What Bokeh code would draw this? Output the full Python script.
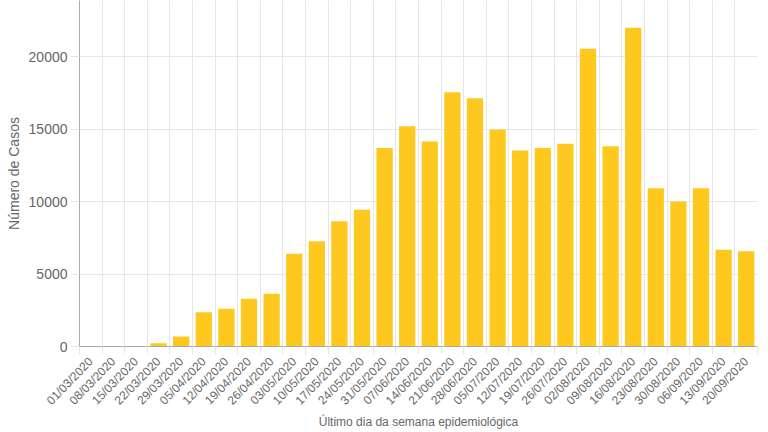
import math
import numpy as np
from bokeh.plotting import figure
from bokeh.models import Range1d, FixedTicker, ColumnDataSource
from bokeh.embed import file_html
from bokeh.resources import INLINE

dates = ["01/03/2020", "08/03/2020", "15/03/2020", "22/03/2020", "29/03/2020",
         "05/04/2020", "12/04/2020", "19/04/2020", "26/04/2020", "03/05/2020",
         "10/05/2020", "17/05/2020", "24/05/2020", "31/05/2020", "07/06/2020",
         "14/06/2020", "21/06/2020", "28/06/2020", "05/07/2020", "12/07/2020",
         "19/07/2020", "26/07/2020", "02/08/2020", "09/08/2020", "16/08/2020",
         "23/08/2020", "30/08/2020", "06/09/2020", "13/09/2020", "20/09/2020"]
cases = [0, 0, 10, 220, 690, 2370, 2600, 3290, 3640, 6400,
         7270, 8650, 9440, 13720, 15210, 14160, 17560, 17150, 14990, 13540,
         13720, 14000, 20560, 13830, 22010, 10930, 10010, 10930, 6680, 6580]
y_ticks = [0, 5000, 10000, 15000, 20000]
x_title = "Último dia da semana epidemiológica"

n = len(dates)
centers = [i + 0.5 for i in range(n)]
bounds = list(range(n + 1))

src = ColumnDataSource(dict(x=centers, top=cases, label=dates))

FONT = "Liberation Sans"
GRID = "#e6e6e6"
TXT = "#666666"

p = figure(width=760, height=432, output_backend="svg", toolbar_location=None,
           x_range=Range1d(0, n), y_range=Range1d(0, 23900),
           min_border_left=79, min_border_right=3, min_border_top=0,
           min_border_bottom=86)
p.outline_line_color = None
p.background_fill_color = "white"
p.border_fill_color = "white"

p.vbar(x="x", top="top", width=0.72, bottom=0, source=src,
       fill_color="#FFC81E", line_color=None)

# x axis
xt = FixedTicker(ticks=centers, minor_ticks=bounds)
p.xaxis.ticker = xt
p.xaxis.major_label_overrides = {c: d for c, d in zip(centers, dates)}
p.xaxis.major_label_orientation = 0.8
p.xaxis.major_tick_line_color = None
p.xaxis.major_tick_out = 0
p.xaxis.major_tick_in = 0
p.xaxis.minor_tick_line_color = GRID
p.xaxis.minor_tick_out = 8
p.xaxis.minor_tick_in = 0
p.xaxis.major_label_standoff = 5
p.xaxis.axis_label = x_title
p.xaxis.axis_label_standoff = 0
p.xgrid.ticker = FixedTicker(ticks=bounds)

# y axis
p.yaxis.ticker = FixedTicker(ticks=y_ticks)
p.yaxis.minor_tick_line_color = None
p.yaxis.major_tick_line_color = GRID
p.yaxis.major_tick_out = 9
p.yaxis.major_tick_in = 0
p.yaxis.major_label_standoff = 3
p.yaxis.axis_label = "Número de Casos"
p.yaxis.axis_label_standoff = 4

for ax in (p.xaxis, p.yaxis):
    ax.axis_line_color = "#aaaaaa"
    ax.major_label_text_font = FONT
    ax.major_label_text_font_size = "14px"
    ax.major_label_text_color = TXT
    ax.axis_label_text_font = FONT
    ax.axis_label_text_font_size = "14px"
    ax.axis_label_text_color = TXT
    ax.axis_label_text_font_style = "normal"
p.xaxis.major_label_text_font_size = "12px"
p.xaxis.axis_label_text_font_size = "12px"

p.xgrid.grid_line_color = GRID
p.ygrid.grid_line_color = GRID

open("out.html", "w").write(file_html(p, INLINE))
